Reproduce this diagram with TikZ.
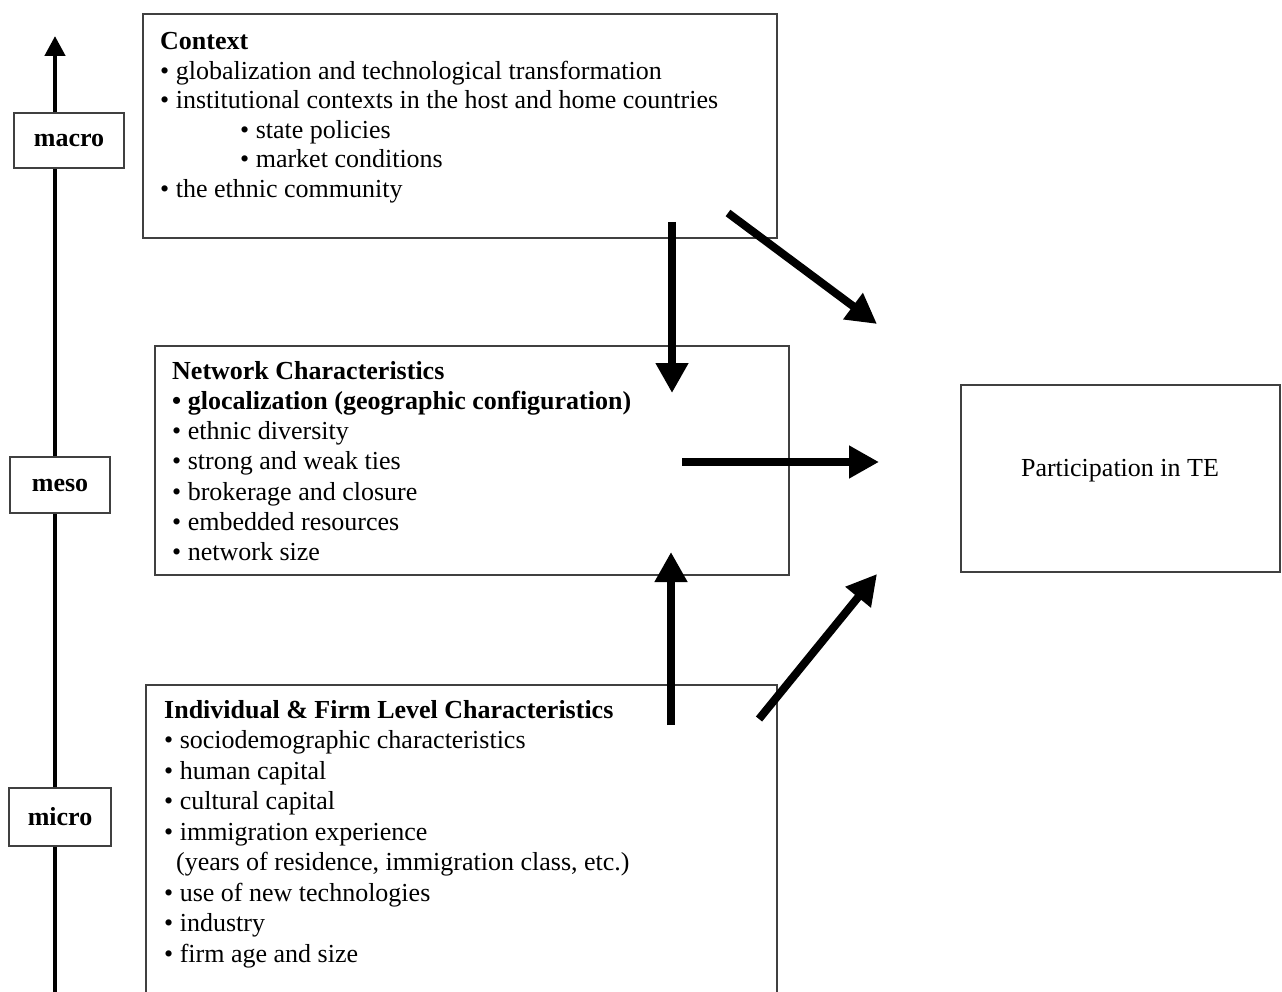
\documentclass[tikz,border=0pt]{standalone}
\usepackage{fontspec}
\setmainfont{Liberation Serif}
\usetikzlibrary{arrows.meta}
\tikzset{
  frame/.style={draw=black!75, line width=1.6pt, fill=none, inner sep=0pt},
  lvl/.style={draw=black!75, line width=1.6pt, fill=white, inner sep=0pt, font=\fontsize{26}{30}\selectfont\bfseries},
  txt/.style={anchor=north west, align=left, inner sep=0pt},
  bigarrow/.style={line width=8pt, -{Triangle[length=30pt,width=31pt]}},
  axisarrow/.style={line width=4.5pt, -{Triangle[length=20pt,width=20pt]}},
}
\begin{document}
\begin{tikzpicture}[x=1pt,y=-1pt, font=\fontsize{26}{30}\selectfont]
\useasboundingbox (0,0) rectangle (1282,992);
% axis
\coordinate (axb) at (55,992);
\coordinate (axt) at (55,36);
\draw[axisarrow] (axb) -- (axt);
\node[lvl, minimum width=110pt, minimum height=55pt] (macro) at (69,140.5) {macro};
\node[lvl, minimum width=100pt, minimum height=56pt] (meso) at (60,485) {meso};
\node[lvl, minimum width=102pt, minimum height=58pt] (micro) at (60,817) {micro};
% boxes
\node[frame, minimum width=634pt, minimum height=224pt] (ctx) at (460,126) {};
\node[frame, minimum width=634pt, minimum height=229pt] (net) at (472,460.5) {};
\node[frame, minimum width=631pt, minimum height=320pt] (ind) at (461.5,845) {};
\node[frame, minimum width=319pt, minimum height=187pt] (te) at (1120.5,478.5) {};
% texts
\node[txt, font=\fontsize{26}{29.6}\selectfont] (ctxt) at (160,32) {\textbf{Context}\\
\textbullet\ globalization and technological transformation\\
\textbullet\ institutional contexts in the host and home countries\\
\hspace{80pt}\textbullet\ state policies\\
\hspace{80pt}\textbullet\ market conditions\\
\textbullet\ the ethnic community};
\node[txt, font=\fontsize{26}{30.2}\selectfont] (nett) at (172,361) {\textbf{Network Characteristics}\\
\textbf{\textbullet\ glocalization (geographic configuration)}\\
\textbullet\ ethnic diversity\\
\textbullet\ strong and weak ties\\
\textbullet\ brokerage and closure\\
\textbullet\ embedded resources\\
\textbullet\ network size};
\node[txt, font=\fontsize{26}{30.5}\selectfont] (indt) at (164,700) {\textbf{Individual \& Firm Level Characteristics}\\
\textbullet\ sociodemographic characteristics\\
\textbullet\ human capital\\
\textbullet\ cultural capital\\
\textbullet\ immigration experience\\
\hspace{12pt}(years of residence, immigration class, etc.)\\
\textbullet\ use of new technologies\\
\textbullet\ industry\\
\textbullet\ firm age and size};
\node[inner sep=0pt] (tet) at (1120,471) {Participation in TE};
% arrows
\coordinate (a1s) at (672,222);
\coordinate (a1e) at (672,393);
\coordinate (a2s) at (728,213);
\coordinate (a2e) at (877,324);
\coordinate (a3s) at (682,462);
\coordinate (a3e) at (879,462);
\coordinate (a4s) at (671,725);
\coordinate (a4e) at (671,552);
\coordinate (a5s) at (759,719);
\coordinate (a5e) at (877,574);
\draw[bigarrow] (a1s) -- (a1e);
\draw[bigarrow] (a2s) -- (a2e);
\draw[bigarrow] (a3s) -- (a3e);
\draw[bigarrow] (a4s) -- (a4e);
\draw[bigarrow] (a5s) -- (a5e);
\end{tikzpicture}
\end{document}
